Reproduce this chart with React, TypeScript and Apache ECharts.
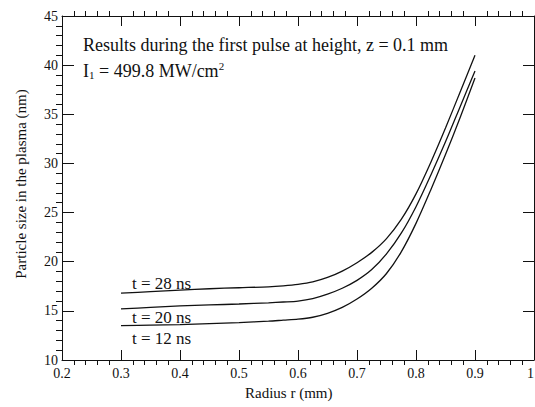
import React, { useEffect, useRef } from "react";
import * as echarts from "echarts";

const radius = [0.3, 0.35, 0.4, 0.45, 0.5, 0.55, 0.575, 0.6, 0.625, 0.65, 0.675, 0.7, 0.725, 0.75, 0.775, 0.8, 0.825, 0.85, 0.875, 0.9];
const size28 = [16.8, 16.95, 17.1, 17.25, 17.35, 17.45, 17.55, 17.7, 17.95, 18.4, 19.05, 19.9, 20.95, 22.35, 24.3, 26.9, 30.1, 33.6, 37.3, 41.0];
const size20 = [15.2, 15.35, 15.5, 15.6, 15.7, 15.82, 15.9, 16.0, 16.25, 16.7, 17.3, 18.1, 19.2, 20.8, 22.9, 25.6, 28.8, 32.2, 35.8, 39.4];
const size12 = [13.5, 13.55, 13.6, 13.7, 13.8, 13.95, 14.05, 14.15, 14.35, 14.75, 15.35, 16.2, 17.3, 18.8, 21.0, 23.9, 27.3, 30.9, 34.7, 38.7];
const seriesNames = ["t = 28 ns", "t = 20 ns", "t = 12 ns"];
const xTicks = { min: 0.2, max: 1.0, interval: 0.1 };
const yTicks = { min: 10, max: 45, interval: 5 };

const FONT = "Liberation Serif";

export default function App() {
  const ref = useRef<HTMLDivElement>(null);
  useEffect(() => {
    if (!ref.current) return;
    const chart = echarts.init(ref.current, null, { renderer: "svg" });
    const mk = (vals: number[]) => radius.map((r, i) => [r, vals[i]]);
    const axisLine = { show: true, lineStyle: { color: "#111", width: 1 } };
    const tick = (len: number) => ({ show: true, inside: true, length: len, lineStyle: { color: "#111" } });
    const minor = (len: number) => ({ show: true, splitNumber: 5, length: -len, lineStyle: { color: "#111" } });
    chart.setOption({
      animation: false,
      backgroundColor: "#fff",
      grid: { left: 62, right: 1, top: 16, bottom: 47, outerBoundsMode: "none" },
      xAxis: [
        {
          type: "value",
          position: "bottom",
          min: xTicks.min,
          max: xTicks.max,
          interval: xTicks.interval,
          axisLine,
          splitLine: { show: false },
          axisTick: tick(10),
          minorTick: minor(5),
          axisLabel: {
            fontFamily: FONT,
            fontSize: 14,
            color: "#111",
            margin: 6,
            alignMaxLabel: "right",
            formatter: (v: number) => (Math.abs(v - 1) < 1e-9 ? "1" : v.toFixed(1)),
          },
        },
        {
          type: "value",
          position: "top",
          min: xTicks.min,
          max: xTicks.max,
          interval: xTicks.interval,
          axisLine,
          splitLine: { show: false },
          axisTick: tick(10),
          minorTick: minor(5),
          axisLabel: { show: false },
        },
      ],
      yAxis: [
        {
          type: "value",
          position: "left",
          min: yTicks.min,
          max: yTicks.max,
          interval: yTicks.interval,
          axisLine,
          splitLine: { show: false },
          axisTick: tick(12),
          minorTick: minor(6),
          axisLabel: { fontFamily: FONT, fontSize: 14, color: "#111", margin: 4 },
        },
        {
          type: "value",
          position: "right",
          min: yTicks.min,
          max: yTicks.max,
          interval: yTicks.interval,
          axisLine,
          splitLine: { show: false },
          axisTick: tick(11),
          minorTick: minor(5),
          axisLabel: { show: false },
        },
      ],
      series: [size28, size20, size12].map((vals, i) => ({
        name: seriesNames[i],
        type: "line",
        data: mk(vals),
        smooth: 0.3,
        showSymbol: false,
        lineStyle: { color: "#111", width: 1.3 },
      })),
      graphic: [
        {
          type: "text",
          left: 83,
          top: 36,
          style: { text: "Results during the first pulse at height, z = 0.1 mm", font: `18px "${FONT}"`, fill: "#111" },
        },
        {
          type: "text",
          left: 83,
          top: 60,
          style: {
            text: "{a|I}{s|1}{a| = 499.8 MW/cm}{p|2}",
            fill: "#111",
            rich: {
              a: { fontFamily: FONT, fontSize: 18, fill: "#111", verticalAlign: "bottom" },
              s: { fontFamily: FONT, fontSize: 11, fill: "#111", padding: [9, 0, 0, 0] },
              p: { fontFamily: FONT, fontSize: 11, fill: "#111", padding: [0, 0, 9, 0] },
            },
          },
        },
        { type: "text", left: 132, top: 275, style: { text: seriesNames[0], font: `17px "${FONT}"`, fill: "#111" } },
        { type: "text", left: 132, top: 309, style: { text: seriesNames[1], font: `17px "${FONT}"`, fill: "#111" } },
        { type: "text", left: 132, top: 330, style: { text: seriesNames[2], font: `17px "${FONT}"`, fill: "#111" } },
        { type: "text", left: 245, top: 385, style: { text: "Radius r (mm)", font: `15px "${FONT}"`, fill: "#111" } },
        {
          type: "text",
          x: 21,
          y: 184,
          rotation: Math.PI / 2,
          style: {
            text: "Particle size in the plasma (nm)",
            font: `15px "${FONT}"`,
            fill: "#111",
            align: "center",
            verticalAlign: "middle",
          },
        },
      ],
    });
    return () => chart.dispose();
  }, []);
  return <div ref={ref} style={{ width: 535, height: 407, position: "absolute", left: 0, top: 0 }} />;
}
